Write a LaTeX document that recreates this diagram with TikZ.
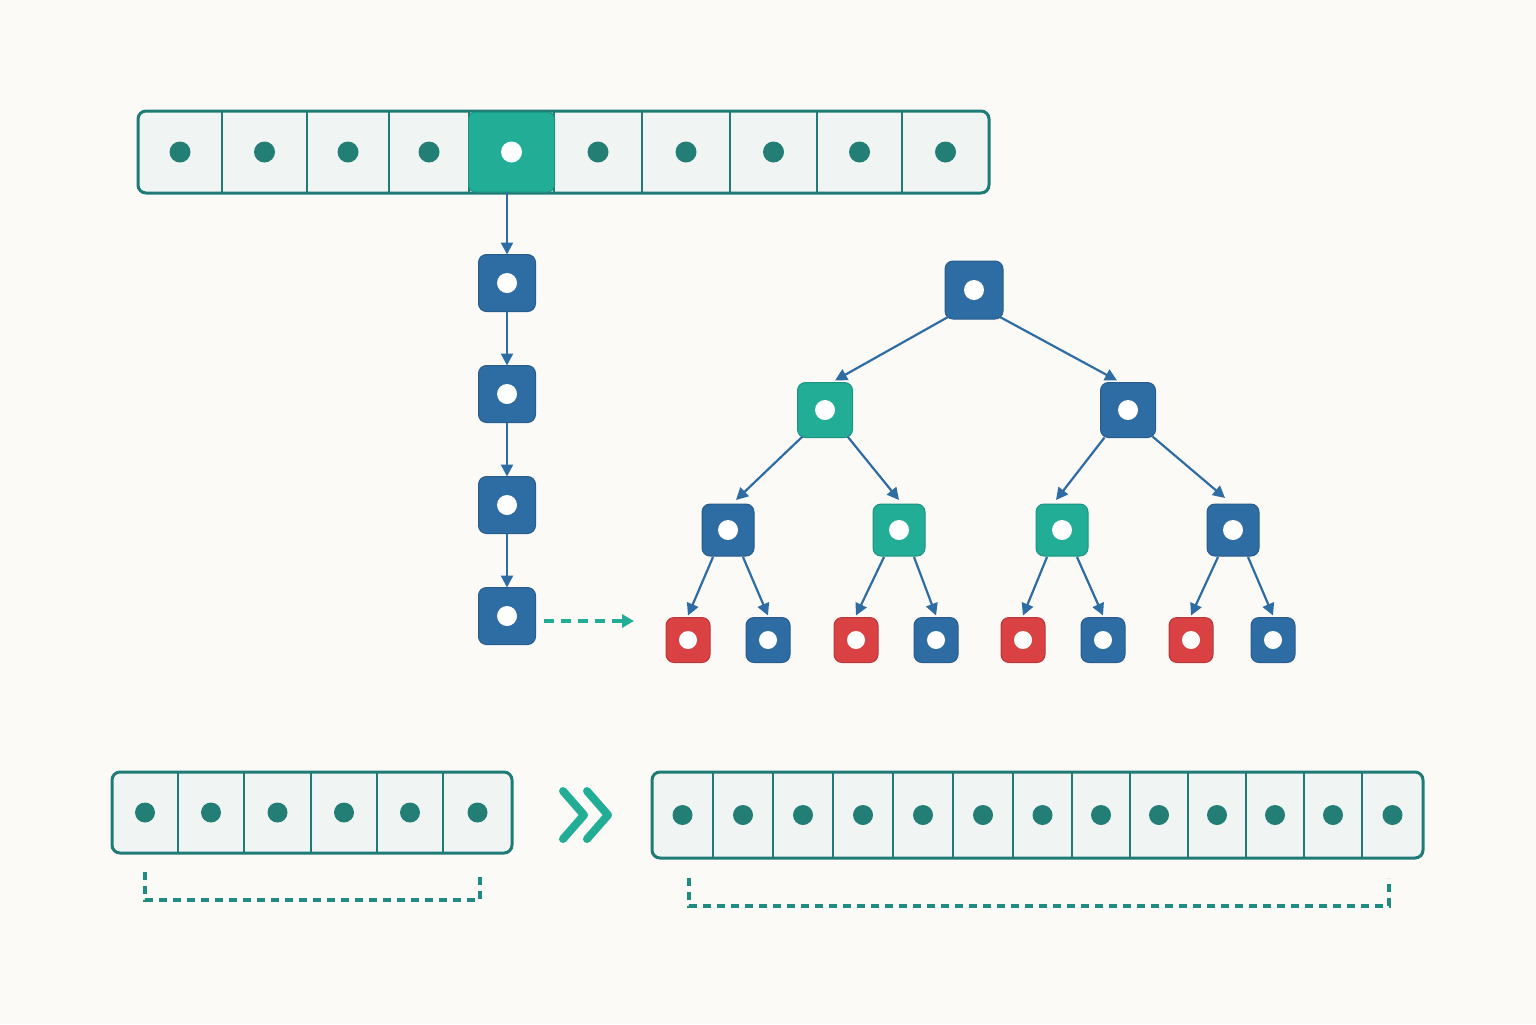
\documentclass[tikz,border=0pt]{standalone}
\usetikzlibrary{arrows.meta,calc}
\definecolor{bg}{HTML}{FBFAF7}
\definecolor{cellfill}{HTML}{F0F5F4}
\definecolor{tealdark}{HTML}{1F7B76}
\definecolor{dotc}{HTML}{237F76}
\definecolor{tealhi}{HTML}{22AD96}
\definecolor{blu}{HTML}{2E6CA4}
\definecolor{redc}{HTML}{D94142}
\tikzset{
  cellbox/.style={rectangle, inner sep=0pt, outer sep=0pt},
  frame/.style={draw=tealdark, line width=1.5pt, rounded corners=4pt},
  divider/.style={draw=tealdark, line width=1pt},
  sq/.style={rectangle, rounded corners=4pt, inner sep=0pt, outer sep=0pt, line width=0.5pt},
  bsq/.style={sq, fill=blu, draw=blu!85!black},
  tsq/.style={sq, fill=tealhi, draw=tealhi!85!black},
  rsq/.style={sq, fill=redc, draw=redc!85!black},
  arr/.style={draw=blu, line width=1.2pt, -{Triangle[length=6pt,width=6pt]}},
  tarr/.style={draw=blu, line width=1.1pt, -{Triangle[length=6pt,width=6pt]}},
  dasharr/.style={draw=tealhi, line width=1.6pt, dash pattern=on 5pt off 3.5pt, -{Triangle[length=6pt,width=6.5pt]}},
  bracket/.style={draw=tealdark!65!tealhi, line width=1.6pt, dash pattern=on 4pt off 3pt},
  chev/.style={draw=tealhi, line width=4pt, line cap=round, line join=round},
}
\begin{document}
\begin{tikzpicture}[x=0.5pt,y=-0.5pt]
\fill[bg] (0,0) rectangle (1536,1024);
\useasboundingbox (0,0) rectangle (1536,1024);

% ---------- top array ----------
\fill[cellfill, rounded corners=4pt] (138,111) rectangle (989,193);
\foreach \i/\l/\r in {1/138/222,2/222/307,3/307/389,4/389/469,5/469/554,6/554/642,7/642/730,8/730/817,9/817/902,10/902/989}{
  \path (\l,111) coordinate (tnw\i) (\r,193) coordinate (tse\i);
  \node[cellbox] (t\i) at ($(tnw\i)!0.5!(tse\i)$) {};
}
\foreach \i in {1,...,9}{
  \draw[divider] (tse\i |- tnw\i) -- (tse\i);
}
\draw[frame] (138,111) rectangle (989,193);
\node[tsq, minimum width=43pt, minimum height=40pt, rounded corners=3.5pt] (hl) at (511.5,152) {};
\foreach \i in {1,2,3,4,6,7,8,9,10}{
  \fill[dotc] (t\i.center) circle[radius=10.5];
}
\fill[white] (hl.center) circle[radius=10.5];

% ---------- chain ----------
\foreach \i/\y in {1/283,2/394,3/505,4/616}{
  \node[bsq, minimum size=28.5pt] (c\i) at (507,\y) {};
  \fill[white] (c\i.center) circle[radius=10];
}
\draw[arr] (hl.south -| c1) -- (c1.north);
\draw[arr] (c1) -- (c2);
\draw[arr] (c2) -- (c3);
\draw[arr] (c3) -- (c4);
\coordinate (dend) at (634,621);
\draw[dasharr] ($(c4.east)+(8,5)$) -- (dend);

% ---------- tree ----------
\node[bsq, minimum size=29pt] (r) at (974,290) {};
\node[tsq, minimum size=27.5pt] (a) at (825,410) {};
\node[bsq, minimum size=27.5pt] (b) at (1128,410) {};
\node[bsq, minimum size=26pt] (aa) at (728,530) {};
\node[tsq, minimum size=26pt] (ab) at (899,530) {};
\node[tsq, minimum size=26pt] (ba) at (1062,530) {};
\node[bsq, minimum size=26pt] (bb) at (1233,530) {};
\foreach \n in {r,a,b,aa,ab,ba,bb}{
  \fill[white] (\n.center) circle[radius=10];
}
\foreach \n/\x/\s in {l1/688/rsq,l2/768/bsq,l3/856/rsq,l4/936/bsq,l5/1023/rsq,l6/1103/bsq,l7/1191/rsq,l8/1273/bsq}{
  \node[\s, minimum width=22pt, minimum height=22.5pt] (\n) at (\x,640) {};
  \fill[white] (\n.center) circle[radius=9];
}
\draw[tarr] ($(r.south west)+(3,-2)$) -- ($(a.north)+(10,-2)$);
\draw[tarr] ($(r.south east)+(-3,-2)$) -- ($(b.north)+(-11,-2)$);
\draw[tarr] ($(a.south west)+(5,-1)$) -- ($(aa.north)+(8,-4)$);
\draw[tarr] ($(a.south east)+(-5,-1)$) -- ($(ab.north)+(0,-4)$);
\draw[tarr] ($(b.south west)+(4,0)$) -- ($(ba.north)+(-6,-4)$);
\draw[tarr] ($(b.south east)+(-3,-1)$) -- ($(bb.north)+(-8,-6)$);
\foreach \p/\l/\r in {aa/l1/l2,ab/l3/l4,ba/l5/l6,bb/l7/l8}{
  \draw[tarr] ($(\p.south)+(-15,1)$) -- ($(\l.north)+(0,-2)$);
  \draw[tarr] ($(\p.south)+(15,1)$) -- ($(\r.north)+(0,-2)$);
}

% ---------- bottom left array ----------
\fill[cellfill, rounded corners=4pt] (112,772) rectangle (512,853);
\foreach \i/\l/\r in {1/112/178,2/178/244,3/244/311,4/311/377,5/377/443,6/443/512}{
  \path (\l,772) coordinate (snw\i) (\r,853) coordinate (sse\i);
  \node[cellbox] (s\i) at ($(snw\i)!0.5!(sse\i)$) {};
}
\foreach \i in {1,...,5}{
  \draw[divider] (sse\i |- snw\i) -- (sse\i);
}
\draw[frame] (112,772) rectangle (512,853);
\foreach \i in {1,...,6}{
  \fill[dotc] (s\i.center) circle[radius=10];
}
\draw[bracket] (145,872) -- (145,900) -- (480,900) -- (480,872);

% ---------- chevrons ----------
\draw[chev] (563,791) -- (584,815) -- (563,839);
\draw[chev] (587,791) -- (608,815) -- (587,839);

% ---------- bottom right array ----------
\fill[cellfill, rounded corners=4pt] (652,772) rectangle (1423,858);
\foreach \i/\l/\r in {1/652/713,2/713/773,3/773/833,4/833/893,5/893/953,6/953/1013,7/1013/1072,8/1072/1130,9/1130/1188,10/1188/1246,11/1246/1304,12/1304/1362,13/1362/1423}{
  \path (\l,772) coordinate (wnw\i) (\r,858) coordinate (wse\i);
  \node[cellbox] (w\i) at ($(wnw\i)!0.5!(wse\i)$) {};
}
\foreach \i in {1,...,12}{
  \draw[divider] (wse\i |- wnw\i) -- (wse\i);
}
\draw[frame] (652,772) rectangle (1423,858);
\foreach \i in {1,...,13}{
  \fill[dotc] (w\i.center) circle[radius=10];
}
\draw[bracket] (689,878) -- (689,906) -- (1389,906) -- (1389,878);
\end{tikzpicture}
\end{document}
